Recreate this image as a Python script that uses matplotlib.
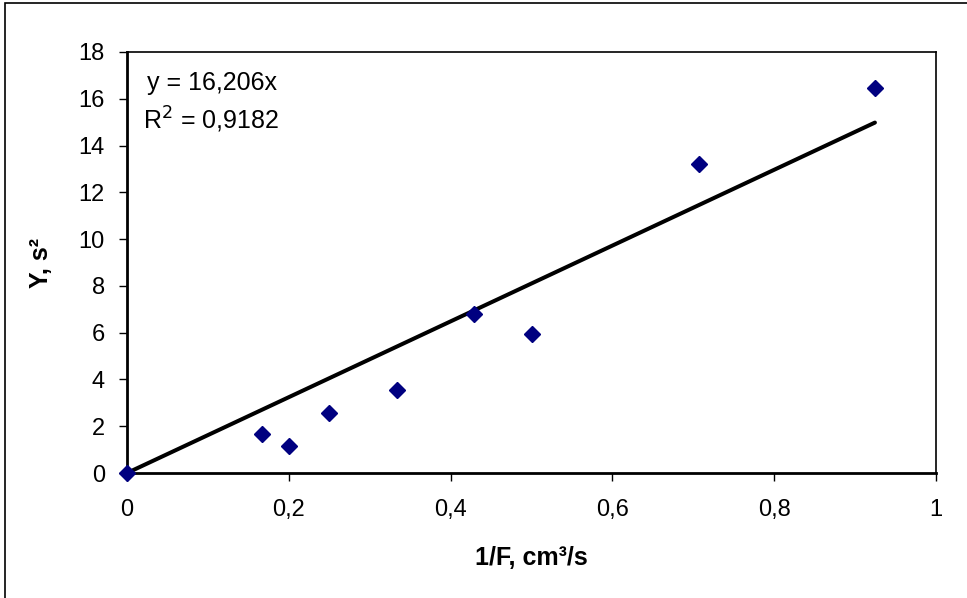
import matplotlib
matplotlib.use('Agg')
import matplotlib.pyplot as plt
from matplotlib.ticker import FuncFormatter, MultipleLocator
from matplotlib.patches import Rectangle

plt.rcParams['font.family'] = ['Liberation Sans', 'DejaVu Sans']

# measured points: 1/F vs Y
inv_f = [0.0, 0.1667, 0.2, 0.25, 0.3333, 0.4286, 0.5, 0.7071, 0.9245]
y_vals = [0.0, 1.65, 1.17, 2.55, 3.55, 6.8, 5.95, 13.2, 16.45]

# linear trend through origin
slope = 16.206
r_squared = 0.9182


def comma_fmt(v, pos):
    s = f'{v:g}'
    return s.replace('.', ',')


fig = plt.figure(figsize=(9.67, 5.98), dpi=100)
ax = fig.add_axes([127 / 967, 125 / 598, (936 - 127) / 967, (473 - 52) / 598])

trend_x = [0.0, max(inv_f)]
trend_y = [slope * x for x in trend_x]
ax.plot(trend_x, trend_y, color='black', lw=2.9, solid_capstyle='round', zorder=2)
ax.plot(inv_f, y_vals, linestyle='none', marker='D', markersize=8,
        color='#000080', clip_on=False, zorder=3)

ax.set_xlim(0, 1)
ax.set_ylim(0, 18)
ax.xaxis.set_major_locator(MultipleLocator(0.2))
ax.yaxis.set_major_locator(MultipleLocator(2))
ax.xaxis.set_major_formatter(FuncFormatter(comma_fmt))
ax.yaxis.set_major_formatter(FuncFormatter(comma_fmt))
ax.tick_params(axis='both', labelsize=17, length=6, width=1, color='black')
ax.tick_params(axis='x', pad=13)
ax.tick_params(axis='y', pad=10)

for sp in ax.spines.values():
    sp.set_linewidth(1.2)
    sp.set_color('black')
ax.spines['left'].set_linewidth(2)
ax.spines['bottom'].set_linewidth(2)

ax.set_xlabel('1/F, cm³/s', fontsize=18, fontweight='bold', labelpad=18)
ax.set_ylabel('Y, s²', fontsize=18, fontweight='bold', labelpad=18)

ax.text(0.025, 0.91, f'y = {slope:.3f}x'.replace('.', ','), transform=ax.transAxes,
        fontsize=18, va='baseline', ha='left')
ax.text(0.02, 0.817, f'R$^2$ = {r_squared:.4f}'.replace('.', ','), transform=ax.transAxes,
        fontsize=18, va='baseline', ha='left')

# outer chart border
fig.patches.append(Rectangle((5 / 967, -0.1), 1.2, (598 - 3) / 598 + 0.1, transform=fig.transFigure,
                             fill=False, edgecolor='black', lw=1.2))

fig.savefig('out.png', dpi=100)
